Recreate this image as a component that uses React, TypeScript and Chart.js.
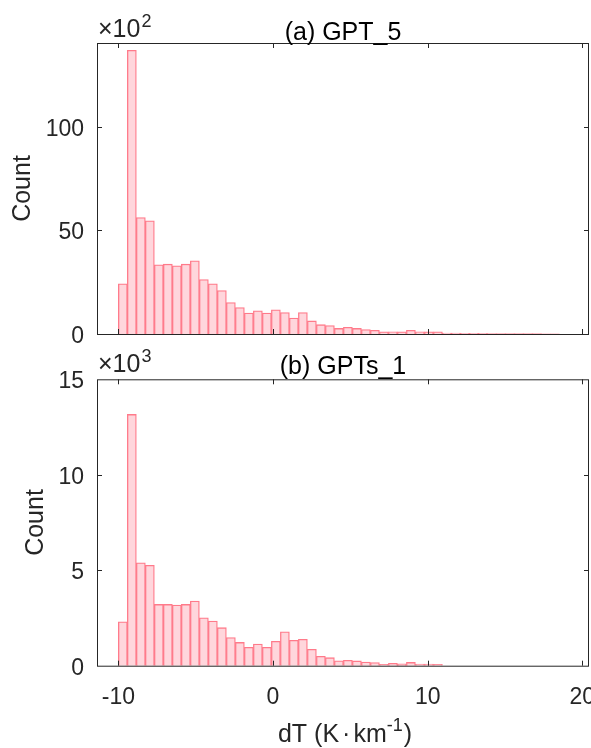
import React, { useEffect, useRef } from 'react';
import { Chart, registerables } from 'chart.js';

Chart.register(...registerables);

// ---------- data ----------
const BIN_START = -10;
const BIN_WIDTH = 0.582;
const X_MIN = -11.38;
const X_MAX = 20.43;
const X_TICKS = [-10, 0, 10, 20];

const TITLE_A = '(a) GPT_5';
const TITLE_B = '(b) GPTs_1';
const Y_LABEL = 'Count';
// x label pieces: main text, unit superscript, closing bracket
const X_LABEL_MAIN = ['dT (K', '·', 'km'];
const X_LABEL_SUP = '-1';
const X_LABEL_END = ')';

// counts shown in units of 10^2 (panel a) and 10^3 (panel b)
const EXP_A = '2';
const EXP_B = '3';
const countsA = [
  24.2, 137, 56.2, 54.7, 33.4, 33.7, 32.9, 33.7, 35.3, 26.3,
  24.2, 21.0, 15.2, 12.8, 10.1, 11.2, 10.1, 11.7, 10.4, 7.7,
  10.4, 6.3, 4.5, 4.1, 2.7, 3.2, 2.7, 2.1, 1.8, 1.0,
  1.1, 1.0, 1.8, 1.1, 1.0, 1.0, 0.5, 0.4, 0.35, 0.3,
  0.3, 0.25, 0.2, 0.2, 0.2, 0.15, 0.15, 0.1, 0.1,
];
const countsB = [
  2.30, 13.16, 5.39, 5.26, 3.21, 3.21, 3.18, 3.21, 3.39, 2.51,
  2.34, 1.99, 1.47, 1.22, 0.96, 1.13, 0.96, 1.28, 1.78, 1.33,
  1.38, 0.86, 0.49, 0.42, 0.26, 0.28, 0.25, 0.19, 0.16, 0.07,
  0.12, 0.10, 0.17, 0.08, 0.08, 0.07,
];
const Y_TICKS_A = [0, 50, 100];
const Y_TICKS_B = [0, 5, 10, 15];
const Y_MAX_A = 140.5;
const Y_MAX_B = 15;

// ---------- styles ----------
const FONT = "'Liberation Sans', Arial, sans-serif";
const AXIS_COLOR = '#262626';
const FILL = 'rgb(255, 214, 220)';
const EDGE = 'rgb(255, 122, 138)';

const matlabAxes = {
  id: 'matlabAxes',
  afterDraw(chart: any, _args: any, opts: any) {
    const { ctx, chartArea } = chart;
    const { left, right, top, bottom } = chartArea;
    const xs = chart.scales.x;
    const ys = chart.scales.y;
    ctx.save();
    ctx.strokeStyle = AXIS_COLOR;
    ctx.lineWidth = 1;
    ctx.strokeRect(left + 0.5, top + 0.5, right - left - 1, bottom - top);
    const L = 5;
    ctx.beginPath();
    X_TICKS.forEach((v) => {
      const px = Math.round(xs.getPixelForValue(v)) + 0.5;
      if (px < left || px > right) return;
      ctx.moveTo(px, bottom);
      ctx.lineTo(px, bottom - L);
      ctx.moveTo(px, top);
      ctx.lineTo(px, top + L);
    });
    (opts.yTicks || []).forEach((v: number) => {
      const py = Math.round(ys.getPixelForValue(v)) + 0.5;
      if (py <= top + 1 || py >= bottom - 1) return;
      ctx.moveTo(left, py);
      ctx.lineTo(left + L, py);
      ctx.moveTo(right, py);
      ctx.lineTo(right - L, py);
    });
    ctx.stroke();

    // panel title, centred over the plot area
    if (opts.title) {
      ctx.fillStyle = '#000';
      ctx.textAlign = 'center';
      ctx.textBaseline = 'alphabetic';
      ctx.font = `25px ${FONT}`;
      ctx.fillText(opts.title, (left + right) / 2, opts.titleBaseline);
    }

    // exponent label
    if (opts.exponent) {
      ctx.fillStyle = AXIS_COLOR;
      ctx.textBaseline = 'alphabetic';
      ctx.textAlign = 'left';
      ctx.font = `25px ${FONT}`;
      const base = '×10';
      const x0 = left + 1;
      ctx.fillText(base, x0, opts.expBaseline);
      const w = ctx.measureText(base).width;
      ctx.font = `18px ${FONT}`;
      ctx.fillText(opts.exponent, x0 + w + 1, opts.expBaseline - 10);
    }

    // x-axis label with superscript unit
    if (opts.xLabel) {
      ctx.fillStyle = AXIS_COLOR;
      ctx.textBaseline = 'alphabetic';
      ctx.textAlign = 'left';
      const big = `25px ${FONT}`;
      const small = `18px ${FONT}`;
      const gap = 3;
      ctx.font = big;
      const wMain = X_LABEL_MAIN.map((s) => ctx.measureText(s).width);
      const wEnd = ctx.measureText(X_LABEL_END).width;
      ctx.font = small;
      const wSup = ctx.measureText(X_LABEL_SUP).width;
      const total = wMain.reduce((a, b) => a + b, 0) + gap * 2 + wSup + 1 + wEnd;
      let x = opts.xLabelCenter - total / 2;
      const yb = opts.xLabelBaseline;
      ctx.font = big;
      X_LABEL_MAIN.forEach((s, i) => {
        ctx.fillText(s, x, yb);
        x += wMain[i] + (i < X_LABEL_MAIN.length - 1 ? gap : 0);
      });
      ctx.font = small;
      ctx.fillText(X_LABEL_SUP, x, yb - 11);
      x += wSup + 1;
      ctx.font = big;
      ctx.fillText(X_LABEL_END, x, yb);
    }
    ctx.restore();
  },
};

function makeConfig(p: {
  counts: number[];
  title: string;
  titleBaseline: number;
  padTop: number;
  yMax: number;
  yTicks: number[];
  yTitlePad: number;
  xHeight: number;
  showX: boolean;
  exponent: string;
  expBaseline: number;
}) {
  const centers = p.counts.map((_, i) => BIN_START + (i + 0.5) * BIN_WIDTH);
  const data = p.counts.map((c, i) => ({ x: centers[i], y: c }));
  return {
    type: 'bar' as const,
    data: {
      datasets: [
        {
          data,
          backgroundColor: FILL,
          borderColor: EDGE,
          borderWidth: 1.3,
          barPercentage: 1,
          categoryPercentage: 1,
        },
      ],
    },
    plugins: [matlabAxes],
    options: {
      animation: false as const,
      responsive: false,
      maintainAspectRatio: false,
      devicePixelRatio: 1,
      layout: { padding: { top: p.padTop, left: 0, right: 2, bottom: 0 } },
      plugins: {
        legend: { display: false },
        tooltip: { enabled: false },
        title: { display: false },
        matlabAxes: {
          yTicks: p.yTicks,
          exponent: p.exponent,
          expBaseline: p.expBaseline,
          title: p.title,
          titleBaseline: p.titleBaseline,
          xLabel: p.showX,
          xLabelCenter: 345,
          xLabelBaseline: 397,
        },
      },
      scales: {
        x: {
          type: 'linear' as const,
          position: 'bottom' as const,
          min: X_MIN,
          max: X_MAX,
          offset: false,
          grid: { display: false, drawTicks: false },
          border: { display: false },
          ticks: {
            display: p.showX,
            color: AXIS_COLOR,
            font: { family: FONT, size: 23 },
            padding: 18,
            maxRotation: 0,
          },
          afterBuildTicks: (s: any) => {
            s.ticks = X_TICKS.map((v) => ({ value: v }));
          },
          afterFit: (s: any) => {
            s.height = p.xHeight;
            s.paddingLeft = 0;
            s.paddingRight = 0;
          },
        },
        y: {
          type: 'linear' as const,
          position: 'left' as const,
          min: 0,
          max: p.yMax,
          grid: { display: false, drawTicks: false },
          border: { display: false },
          ticks: {
            color: AXIS_COLOR,
            font: { family: FONT, size: 23 },
            padding: 13,
            labelOffset: 2.5,
          },
          title: {
            display: true,
            text: Y_LABEL,
            color: AXIS_COLOR,
            font: { family: FONT, size: 25 },
            padding: { top: p.yTitlePad, bottom: 0 },
          },
          afterBuildTicks: (s: any) => {
            s.ticks = p.yTicks.map((v) => ({ value: v }));
          },
          afterFit: (s: any) => {
            s.width = 97;
            s.paddingTop = 0;
            s.paddingBottom = 0;
          },
        },
      },
    },
  };
}

export default function App() {
  const refA = useRef<HTMLCanvasElement>(null);
  const refB = useRef<HTMLCanvasElement>(null);

  useEffect(() => {
    const a = new Chart(
      refA.current as HTMLCanvasElement,
      makeConfig({
        counts: countsA,
        title: TITLE_A,
        titleBaseline: 39.5,
        padTop: 43,
        yMax: Y_MAX_A,
        yTicks: Y_TICKS_A,
        yTitlePad: 8,
        xHeight: 11,
        showX: false,
        exponent: EXP_A,
        expBaseline: 37,
      }) as any
    );
    const b = new Chart(
      refB.current as HTMLCanvasElement,
      makeConfig({
        counts: countsB,
        title: TITLE_B,
        titleBaseline: 28.5,
        padTop: 34.3,
        yMax: Y_MAX_B,
        yTicks: Y_TICKS_B,
        yTitlePad: 21,
        xHeight: 82.3,
        showX: true,
        exponent: EXP_B,
        expBaseline: 27,
      }) as any
    );
    return () => {
      a.destroy();
      b.destroy();
    };
  }, []);

  return (
    <div style={{ position: 'absolute', left: 0, top: 0, width: 591, height: 748, background: '#fff', overflow: 'hidden' }}>
      <canvas ref={refA} width={591} height={345} style={{ position: 'absolute', left: 0, top: 0, display: 'block' }} />
      <canvas ref={refB} width={591} height={403} style={{ position: 'absolute', left: 0, top: 345, display: 'block' }} />
    </div>
  );
}
